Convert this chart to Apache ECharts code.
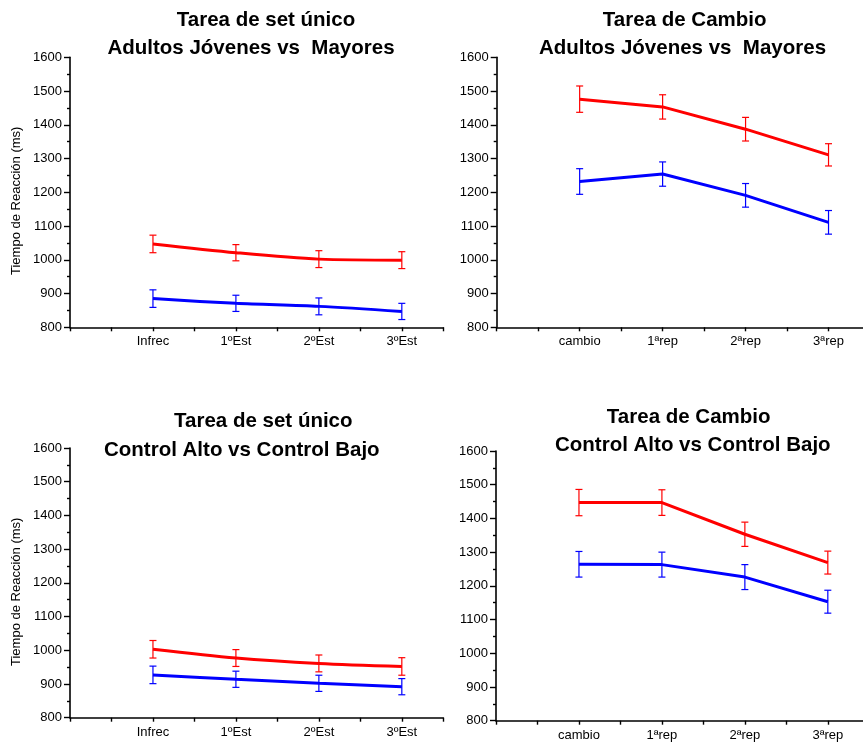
<!DOCTYPE html>
<html>
<head>
<meta charset="utf-8">
<script src="https://cdn.jsdelivr.net/npm/echarts@6/dist/echarts.min.js"></script>
<style>
html,body{margin:0;padding:0;background:#fff;}
#chart{width:863px;height:747px;}
</style>
</head>
<body>
<div id="chart"></div>
<script>
// ---- data ----
const catsSet = ['Infrec', '1ºEst', '2ºEst', '3ºEst'];
const catsCambio = ['cambio', '1ªrep', '2ªrep', '3ªrep'];
const yMin = 800, yMax = 1600, yStep = 100;
const yAxisName = 'Tiempo de Reacción (ms)';

const titles = [
  ['Tarea de set único', 'Adultos Jóvenes vs  Mayores'],
  ['Tarea de Cambio', 'Adultos Jóvenes vs  Mayores'],
  ['Tarea de set único', 'Control Alto vs Control Bajo'],
  ['Tarea de Cambio', 'Control Alto vs Control Bajo']
];

// Panel 1: set único, jóvenes vs mayores
const p1Red = [1047, 1021, 1002, 999];
const p1RedErr = [26, 24, 25, 25];
const p1Blue = [885, 871, 862, 847];
const p1BlueErr = [26, 24, 25, 24];
// Panel 2: cambio, jóvenes vs mayores
const p2Red = [1476, 1453, 1387, 1311];
const p2RedErr = [39, 36, 35, 33];
const p2Blue = [1232, 1254, 1191, 1111];
const p2BlueErr = [38, 36, 35, 35];
// Panel 3: set único, control alto vs bajo
const p3Red = [1003, 977, 961, 952];
const p3RedErr = [26, 25, 25, 26];
const p3Blue = [927, 914, 902, 892];
const p3BlueErr = [26, 24, 24, 24];
// Panel 4: cambio, control alto vs bajo
const p4Red = [1447, 1447, 1353, 1269];
const p4RedErr = [39, 38, 36, 34];
const p4Blue = [1264, 1263, 1226, 1153];
const p4BlueErr = [38, 37, 37, 34];

// ---- layout / style ----
const FONT = '"Liberation Sans", Arial, sans-serif';
const RED = '#ff0000', BLUE = '#0000ff';

const panels = [
  {cats: catsSet, red: p1Red, redErr: p1RedErr, blue: p1Blue, blueErr: p1BlueErr,
   grid: {left: 70, top: 57.3, width: 373.3, height: 270}, smooth: 0.3,
   t1: [266, 20], t2: [251, 48], yname: [16.7, 200.8]},
  {cats: catsCambio, red: p2Red, redErr: p2RedErr, blue: p2Blue, blueErr: p2BlueErr,
   grid: {left: 496.7, top: 57.3, width: 373.3, height: 270}, smooth: false,
   t1: [684.7, 20], t2: [682.5, 48]},
  {cats: catsSet, red: p3Red, redErr: p3RedErr, blue: p3Blue, blueErr: p3BlueErr,
   grid: {left: 70, top: 448, width: 373.3, height: 269.7}, smooth: 0.3,
   t1: [263.3, 421.7], t2: [241.8, 450], yname: [16.7, 591.8]},
  {cats: catsCambio, red: p4Red, redErr: p4RedErr, blue: p4Blue, blueErr: p4BlueErr,
   grid: {left: 496, top: 451, width: 373.3, height: 269.7}, smooth: false,
   t1: [688.7, 417.3], t2: [692.8, 445]}
];

const grids = [], xAxes = [], yAxes = [], series = [], graphics = [];

function errRender(params, api) {
  const x = api.value(0), v = api.value(1), e = api.value(2);
  const top = api.coord([x, v + e]);
  const bot = api.coord([x, v - e]);
  const hw = 3.5;
  const color = api.visual('color');
  const st = {stroke: color, lineWidth: 1.2};
  return {
    type: 'group',
    children: [
      {type: 'line', shape: {x1: top[0], y1: top[1], x2: bot[0], y2: bot[1]}, style: st},
      {type: 'line', shape: {x1: top[0] - hw, y1: top[1], x2: top[0] + hw, y2: top[1]}, style: st},
      {type: 'line', shape: {x1: bot[0] - hw, y1: bot[1], x2: bot[0] + hw, y2: bot[1]}, style: st}
    ]
  };
}

panels.forEach((p, i) => {
  grids.push(Object.assign({containLabel: false, outerBoundsMode: 'none'}, p.grid));
  const cats = p.cats;
  xAxes.push({
    type: 'value', gridIndex: i, min: 0, max: 4.5, interval: 0.5,
    axisLine: {onZero: false, lineStyle: {color: '#000', width: 1.6}},
    axisTick: {show: true, length: 4, lineStyle: {color: '#000', width: 1.4}},
    splitLine: {show: false},
    axisLabel: {
      color: '#000', fontFamily: FONT, fontSize: 13, margin: 8,
      showMinLabel: true, showMaxLabel: true,
      formatter: v => (Number.isInteger(v) && v >= 1 && v <= cats.length) ? cats[v - 1] : ''
    }
  });
  yAxes.push({
    type: 'value', gridIndex: i, min: yMin, max: yMax, interval: yStep,
    axisLine: {show: true, lineStyle: {color: '#000', width: 1.6}},
    axisTick: {show: true, length: 6, lineStyle: {color: '#000', width: 1.4}},
    minorTick: {show: true, splitNumber: 2, length: 3, lineStyle: {color: '#000', width: 1.4}},
    splitLine: {show: false},
    axisLabel: {color: '#000', fontFamily: FONT, fontSize: 13, margin: 8, formatter: v => String(v)}
  });
  const redData = p.red.map((v, k) => [k + 1, v]);
  const blueData = p.blue.map((v, k) => [k + 1, v]);
  series.push({
    type: 'line', xAxisIndex: i, yAxisIndex: i, data: redData, smooth: p.smooth,
    symbol: 'none', lineStyle: {color: RED, width: 3}, itemStyle: {color: RED}, z: 3
  });
  series.push({
    type: 'line', xAxisIndex: i, yAxisIndex: i, data: blueData, smooth: p.smooth,
    symbol: 'none', lineStyle: {color: BLUE, width: 3}, itemStyle: {color: BLUE}, z: 3
  });
  series.push({
    type: 'custom', xAxisIndex: i, yAxisIndex: i, renderItem: errRender,
    itemStyle: {color: RED}, z: 4,
    data: p.red.map((v, k) => [k + 1, v, p.redErr[k]])
  });
  series.push({
    type: 'custom', xAxisIndex: i, yAxisIndex: i, renderItem: errRender,
    itemStyle: {color: BLUE}, z: 4,
    data: p.blue.map((v, k) => [k + 1, v, p.blueErr[k]])
  });
  const tstyle = {fill: '#000', font: 'bold 20.5px ' + FONT, textAlign: 'center', textVerticalAlign: 'middle'};
  graphics.push({type: 'text', x: p.t1[0], y: p.t1[1], style: Object.assign({text: titles[i][0]}, tstyle)});
  graphics.push({type: 'text', x: p.t2[0], y: p.t2[1], style: Object.assign({text: titles[i][1]}, tstyle)});
  if (p.yname) {
    graphics.push({type: 'text', x: p.yname[0], y: p.yname[1], rotation: Math.PI / 2,
      style: {text: yAxisName, fill: '#000', font: '13px ' + FONT, textAlign: 'center', textVerticalAlign: 'middle'}});
  }
});

const chart = echarts.init(document.getElementById('chart'), null, {renderer: 'canvas'});
chart.setOption({
  animation: false,
  backgroundColor: '#fff',
  grid: grids,
  xAxis: xAxes,
  yAxis: yAxes,
  series: series,
  graphic: graphics
});
</script>
</body>
</html>
